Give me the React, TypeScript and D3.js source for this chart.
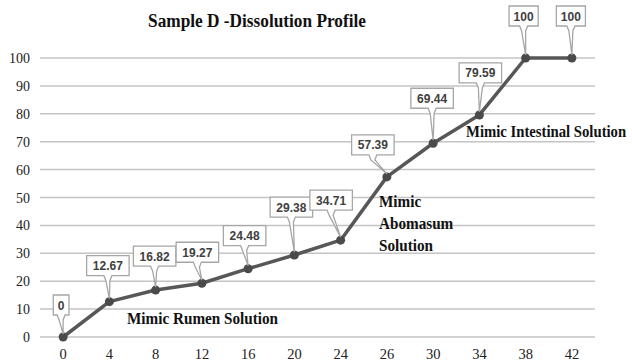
import React from "react";
import * as d3 from "d3";

const categories = ["0", "4", "8", "12", "16", "20", "24", "26", "30", "34", "38", "42"];
const values = [0, 12.67, 16.82, 19.27, 24.48, 29.38, 34.71, 57.39, 69.44, 79.59, 100, 100];
const labels = ["0", "12.67", "16.82", "19.27", "24.48", "29.38", "34.71", "57.39", "69.44", "79.59", "100", "100"];
const yTicks = [0, 10, 20, 30, 40, 50, 60, 70, 80, 90, 100];
const title = "Sample D -Dissolution Profile";

// layout: callout box offsets (center dx, bottom dy) relative to point
const calloutOffsets: [number, number][] = [
  [-2, -22], [-1.5, -26], [-1, -24], [-4.5, -21], [-3.5, -23], [-3, -38],
  [-9.5, -30], [-14, -22], [-1, -35], [1, -32], [-2, -32], [-1, -32],
];

const W = 632, H = 363;

function textW(s: string) {
  return s.length * 6.7;
}

export default function App() {
  const x = d3.scaleBand<string>().domain(categories).range([40, 595]);
  const y = d3.scaleLinear().domain([0, 100]).range([337, 58]);
  const cx = (c: string) => (x(c) as number) + x.bandwidth() / 2;
  const line = d3.line<number>().x((_, i) => cx(categories[i])).y((d) => y(d));
  const serifBold = { fontFamily: "Liberation Serif", fontWeight: "bold" as const, fontSize: 16, fill: "#111" };

  return (
    <svg width={W} height={H} style={{ position: "absolute", left: 0, top: 0, background: "#fff" }}>
      <text transform="translate(257,27) scale(0.96,1)" textAnchor="middle" fontFamily="Liberation Serif" fontWeight="bold" fontSize={18} fill="#111">{title}</text>
      {yTicks.map((t) => (
        <g key={t}>
          <line x1={40} x2={595} y1={y(t)} y2={y(t)} stroke="#c4c4c4" strokeWidth={1.5} />
          <text x={30} y={y(t) + 5} textAnchor="end" fontFamily="Liberation Serif" fontSize={14} fill="#222">{t}</text>
        </g>
      ))}
      {categories.map((c) => (
        <text key={c} x={cx(c)} y={359} textAnchor="middle" fontFamily="Liberation Serif" fontSize={14.5} fill="#222">{c}</text>
      ))}
      <path d={line(values) as string} fill="none" stroke="#575757" strokeWidth={3.5} strokeLinejoin="round" />
      {values.map((v, i) => (
        <circle key={i} cx={cx(categories[i])} cy={y(v)} r={4.5} fill="#4a4a4a" />
      ))}
      {values.map((v, i) => {
        const px = cx(categories[i]);
        const py = y(v);
        const [dx, dy] = calloutOffsets[i];
        const w = textW(labels[i]) + 9;
        const h = 20;
        const bx = px + dx;
        const b = py + dy;
        const x0 = bx - w / 2, x1 = bx + w / 2, t = b - h;
        const d = `M${x0},${t} H${x1} V${b} H${bx + 4} L${bx + 2},${b + 5} L${px},${py - 3} L${bx - 2},${b + 5} L${bx - 4},${b} H${x0} Z`;
        return (
          <g key={"c" + i}>
            <path d={d} fill="#fff" stroke="#a6a6a6" strokeWidth={1.3} />
            <text x={bx} y={b - 5.5} textAnchor="middle" fontFamily="Liberation Sans" fontWeight="bold" fontSize={12} fill="#404040">{labels[i]}</text>
          </g>
        );
      })}
      <text transform="translate(127,324) scale(0.95,1)" {...serifBold}>Mimic Rumen Solution</text>
      <text transform="translate(379,207) scale(0.95,1)" {...serifBold}>Mimic</text>
      <text transform="translate(379,229) scale(0.95,1)" {...serifBold}>Abomasum</text>
      <text transform="translate(379,251) scale(0.95,1)" {...serifBold}>Solution</text>
      <text transform="translate(466,137) scale(0.92,1)" {...serifBold}>Mimic Intestinal Solution</text>
    </svg>
  );
}
